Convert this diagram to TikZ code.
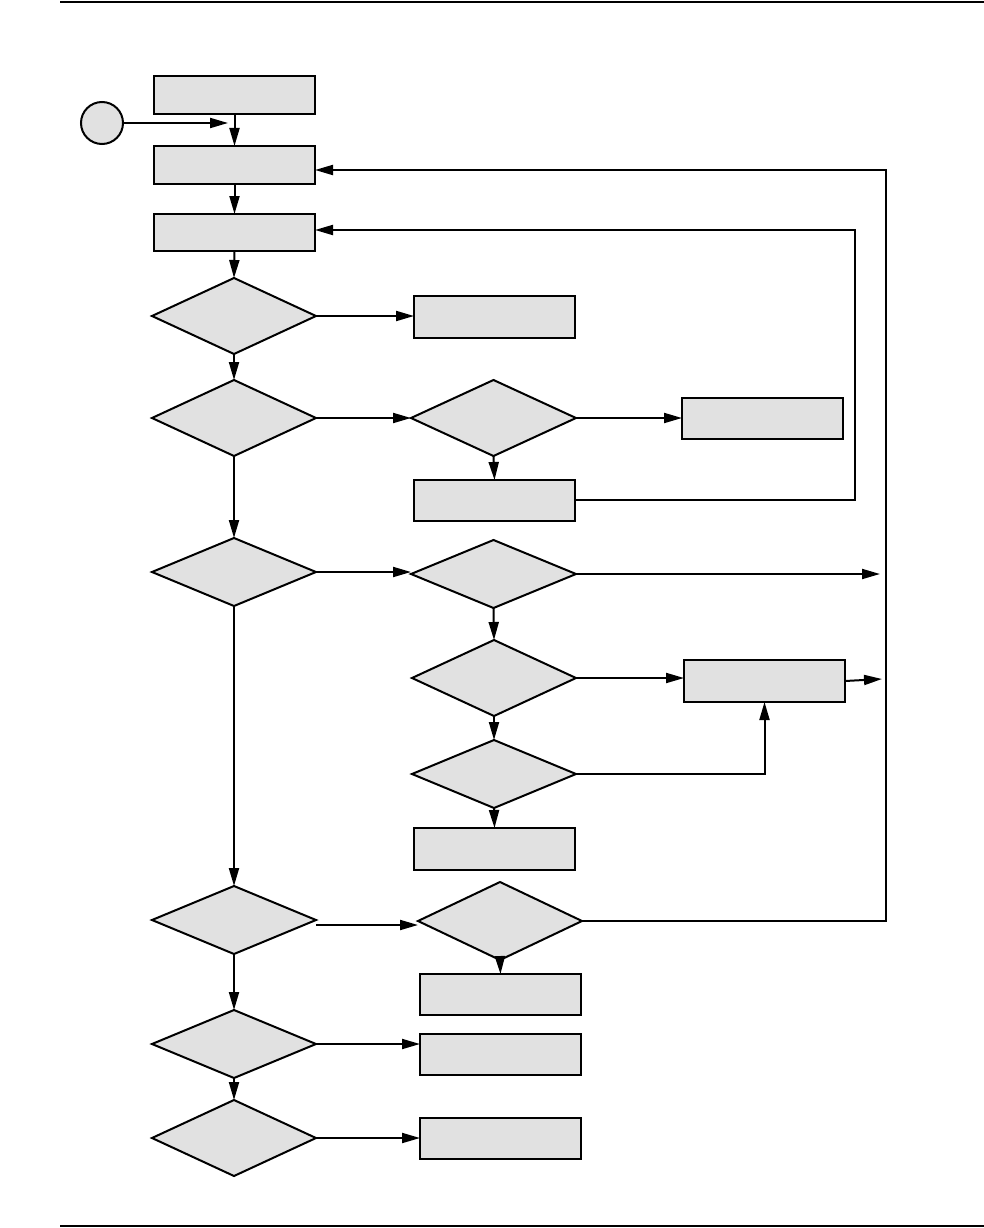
\documentclass[tikz,border=0pt]{standalone}
\usetikzlibrary{shapes.geometric,arrows.meta}
\definecolor{boxgray}{HTML}{E1E1E1}
\begin{document}
\begin{tikzpicture}[x=1pt,y=-1pt,
 box/.style={draw,fill=boxgray,line width=2pt,minimum width=161pt,minimum height=41pt,inner sep=0pt,outer sep=0pt},
 dec/.style={draw,fill=boxgray,diamond,line width=2pt,minimum width=164pt,minimum height=76pt,inner sep=0pt,outer sep=0pt},
 conn/.style={line width=2pt,-{Triangle[length=18pt,width=10pt]}}]
\useasboundingbox (0,0) rectangle (984,1228);
% rules
\coordinate (t1) at (60,2); \coordinate (t2) at (984,2);
\coordinate (u1) at (60,1226); \coordinate (u2) at (984,1226);
\draw[line width=2pt] (t1) -- (t2);
\draw[line width=2pt] (u1) -- (u2);
% start
\node[draw,circle,fill=boxgray,line width=2pt,minimum size=42pt,inner sep=0pt,outer sep=0pt] (c) at (102,123) {};
% left column boxes
\node[box,minimum height=38pt] (b1) at (234.5,95) {};
\node[box,minimum height=38pt] (b2) at (234.5,165) {};
\node[box,minimum height=37pt] (b3) at (234.5,232.5) {};
% left column diamonds
\node[dec] (d1) at (234,316) {};
\node[dec] (d2) at (234,418) {};
\node[dec,minimum height=68pt] (d4) at (234,572) {};
\node[dec,minimum height=68pt] (d8) at (234,920) {};
\node[dec,minimum height=68pt] (d10) at (234,1044) {};
\node[dec] (d11) at (234,1138) {};
% middle column
\node[box,minimum height=42pt] (r1) at (494.5,317) {};
\node[dec,minimum width=165pt] (d3) at (493.5,418) {};
\node[box,minimum height=41pt] (r3) at (494.5,500.5) {};
\node[dec,minimum width=165pt,minimum height=68pt] (d5) at (493.5,574) {};
\node[dec] (d6) at (494,678) {};
\node[dec,minimum height=68pt] (d7) at (494,774) {};
\node[box,minimum height=42pt] (r5) at (494.5,849) {};
\node[dec,minimum height=78pt] (d9) at (500,921) {};
\node[box,minimum height=41pt] (r6) at (500.5,994.5) {};
\node[box,minimum height=41pt] (r7) at (500.5,1054.5) {};
\node[box,minimum height=41pt] (r8) at (500.5,1138.5) {};
% right column
\node[box,minimum height=41pt] (r2) at (762.5,418.5) {};
\node[box,minimum height=42pt] (r4) at (764.5,681) {};
% helper coordinates
\coordinate (s1) at (228,123);
\coordinate (k1) at (855,499);
\coordinate (k2) at (886,920);
\coordinate (e1) at (880,574);
\coordinate (e2) at (882,679);
% connectors
\draw[conn] (c.east) -- (s1);
\draw[conn] (b1.south) -- (b2.north);
\draw[conn] (b2.south) -- (b3.north);
\draw[conn] (b3.south) -- (d1.north);
\draw[conn] (d1.east) -- (d1.east -| r1.west);
\draw[conn] (d1.south) -- (d2.north);
\draw[conn] (d2.east) -- (d2.east -| d3.west);
\draw[conn] (d3.east) -- (d3.east -| r2.west);
\draw[conn] (d3.south) -- (r3.north);
\draw[conn] ([yshift=1pt]r3.east) -- ([yshift=1pt]r3.east -| k1) |- ([yshift=2.5pt]b3.east);
\draw[conn] (d2.south) -- (d4.north);
\draw[conn] (d4.east) -- (d4.east -| d5.west);
\draw[conn] (d5.east) -- (e1);
\draw[conn] (d5.south) -- (d6.north);
\draw[conn] (d6.east) -- (d6.east -| r4.west);
\draw[conn] (r4.east) -- (e2);
\draw[conn] (d6.south) -- (d7.north);
\draw[conn] (d7.east) -| (r4.south);
\draw[conn] (d7.south) -- (r5.north);
\draw[conn] (d4.south) -- (d8.north);
\draw[conn] ([yshift=-5pt]d8.east) -- ([yshift=-5pt]d8.east -| d9.west);
\draw[conn] (d9.south) -- (r6.north);
\draw[conn] (d9.east) -- (d9.east -| k2) |- ([yshift=-5pt]b2.east);
\draw[conn] (d8.south) -- (d10.north);
\draw[conn] (d10.east) -- (d10.east -| r7.west);
\draw[conn] (d10.south) -- (d11.north);
\draw[conn] (d11.east) -- (d11.east -| r8.west);
\end{tikzpicture}
\end{document}
